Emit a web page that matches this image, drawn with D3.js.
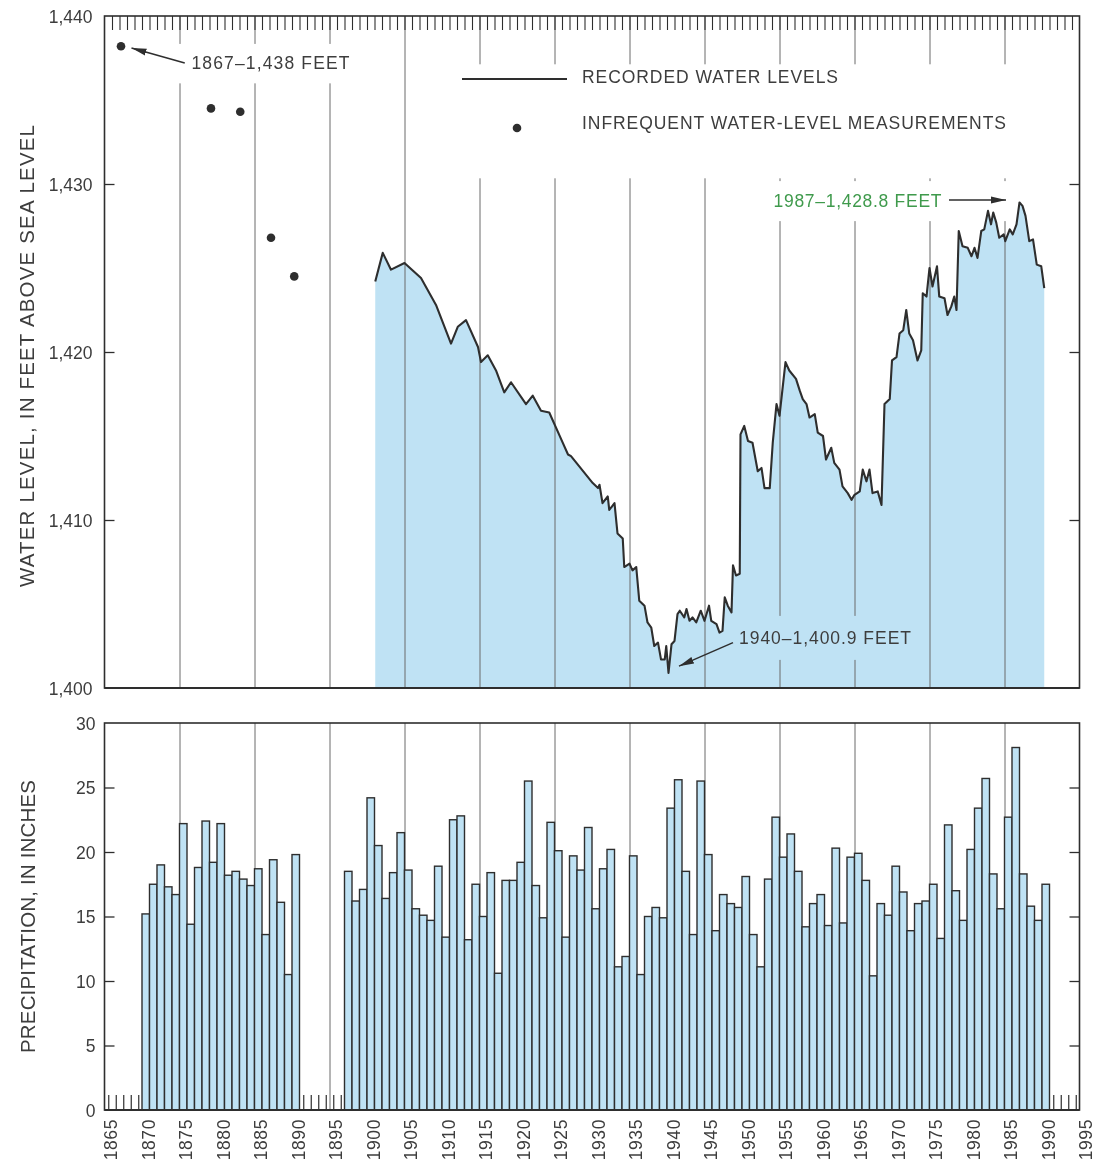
<!DOCTYPE html>
<html>
<head>
<meta charset="utf-8">
<script src="https://cdn.jsdelivr.net/npm/d3@7/dist/d3.min.js"></script>
<style>
html,body{margin:0;padding:0;background:#fff;}
svg{display:block;}
text{font-family:"Liberation Sans",Arial,sans-serif;fill:#3d3d3d;}
</style>
</head>
<body>
<svg id="chart" width="1097" height="1163"></svg>
<script>
// ---------------- DATA ----------------
// Recorded water levels (decimal year, feet above sea level)
const levelYears = [
  1901.1,1902.1,1903.2,1905.0,1907.2,1909.2,1911.2,1912.1,1913.2,1914.8,
  1915.2,1916.1,1917.2,1918.3,1919.2,1921.2,1922.1,1923.2,1924.3,1925.9,
  1926.8,1927.2,1930.1,1930.8,1931.0,1931.4,1932.1,1932.3,1933.0,1933.4,
  1934.1,1934.3,1935.0,1935.4,1935.9,1936.3,1937.0,1937.4,1937.9,1938.3,
  1938.8,1939.2,1939.7,1939.9,1940.2,1940.6,1941.0,1941.4,1941.7,1942.3,
  1942.6,1943.0,1943.4,1943.9,1944.5,1945.0,1945.6,1945.9,1946.6,1947.0,
  1947.4,1947.7,1948.1,1948.6,1948.8,1949.2,1949.7,1949.8,1950.3,1950.8,
  1951.4,1952.1,1952.6,1953.0,1953.7,1954.1,1954.6,1955.0,1955.8,1956.3,
  1957.2,1957.7,1958.1,1958.6,1959.0,1959.7,1960.1,1960.8,1961.2,1961.9,
  1962.3,1963.0,1963.4,1964.1,1964.6,1965.0,1965.7,1966.1,1966.6,1967.0,
  1967.4,1968.1,1968.6,1969.0,1969.7,1970.0,1970.6,1971.0,1971.5,1971.9,
  1972.3,1972.8,1973.4,1973.9,1974.1,1974.6,1975.0,1975.4,1976.0,1976.3,
  1977.0,1977.4,1977.9,1978.3,1978.6,1978.9,1979.4,1980.1,1980.6,1981.0,
  1981.4,1981.9,1982.3,1982.8,1983.2,1983.5,1983.9,1984.3,1984.9,1985.1,
  1985.7,1986.1,1986.6,1987.0,1987.4,1987.8,1988.3,1988.8,1989.3,1989.9,1990.3
];
const levelValues = [
  1424.2,1425.9,1424.9,1425.3,1424.4,1422.8,1420.5,1421.5,1421.9,1420.3,
  1419.4,1419.8,1418.9,1417.6,1418.2,1416.9,1417.4,1416.5,1416.4,1414.8,
  1413.9,1413.8,1412.2,1411.9,1412.1,1411.0,1411.4,1410.6,1411.0,1409.2,
  1408.9,1407.2,1407.4,1407.0,1407.2,1405.2,1404.9,1403.9,1403.6,1402.5,
  1402.7,1401.7,1401.7,1402.5,1400.9,1402.6,1402.8,1404.4,1404.6,1404.2,
  1404.7,1404.0,1404.2,1403.9,1404.6,1404.0,1404.9,1404.0,1403.8,1403.3,
  1403.4,1405.4,1404.9,1404.5,1407.3,1406.7,1406.8,1415.1,1415.6,1414.7,
  1414.6,1412.9,1413.1,1411.9,1411.9,1414.6,1416.9,1416.2,1419.4,1418.9,
  1418.4,1417.7,1417.2,1416.9,1416.1,1416.3,1415.2,1415.0,1413.6,1414.3,
  1413.4,1413.0,1412.0,1411.6,1411.2,1411.5,1411.7,1413.0,1412.3,1413.0,
  1411.6,1411.7,1410.9,1416.9,1417.2,1419.5,1419.7,1421.1,1421.3,1422.5,
  1421.1,1420.7,1419.5,1420.1,1423.5,1423.3,1425.0,1423.9,1425.1,1423.3,
  1423.2,1422.2,1422.7,1423.3,1422.5,1427.2,1426.3,1426.2,1425.7,1426.2,
  1425.6,1427.2,1427.3,1428.4,1427.6,1428.3,1427.7,1426.8,1427.0,1426.6,
  1427.3,1427.0,1427.6,1428.9,1428.7,1428.1,1426.6,1426.7,1425.2,1425.1,1423.8
];
// Infrequent water-level measurements
const spotYears  = [1867.2, 1879.2, 1883.1, 1887.2, 1890.3];
const spotValues = [1438.2, 1434.5, 1434.3, 1426.8, 1424.5];

// Annual precipitation, inches
const precipYears = [
  1870,1871,1872,1873,1874,1875,1876,1877,1878,1879,
  1880,1881,1882,1883,1884,1885,1886,1887,1888,1889,1890,
  1897,1898,1899,
  1900,1901,1902,1903,1904,1905,1906,1907,1908,1909,
  1910,1911,1912,1913,1914,1915,1916,1917,1918,1919,
  1920,1921,1922,1923,1924,1925,1926,1927,1928,1929,
  1930,1931,1932,1933,1934,1935,1936,1937,1938,1939,
  1940,1941,1942,1943,1944,1945,1946,1947,1948,1949,
  1950,1951,1952,1953,1954,1955,1956,1957,1958,1959,
  1960,1961,1962,1963,1964,1965,1966,1967,1968,1969,
  1970,1971,1972,1973,1974,1975,1976,1977,1978,1979,
  1980,1981,1982,1983,1984,1985,1986,1987,1988,1989,1990
];
const precipValues = [
  15.2,17.5,19.0,17.3,16.7,22.2,14.4,18.8,22.4,19.2,
  22.2,18.2,18.5,17.9,17.4,18.7,13.6,19.4,16.1,10.5,19.8,
  18.5,16.2,17.1,
  24.2,20.5,16.4,18.4,21.5,18.6,15.6,15.1,14.7,18.9,
  13.4,22.5,22.8,13.2,17.5,15.0,18.4,10.6,17.8,17.8,
  19.2,25.5,17.4,14.9,22.3,20.1,13.4,19.7,18.6,21.9,
  15.6,18.7,20.2,11.1,11.9,19.7,10.5,15.0,15.7,14.9,
  23.4,25.6,18.5,13.6,25.5,19.8,13.9,16.7,16.0,15.7,
  18.1,13.6,11.1,17.9,22.7,19.6,21.4,18.5,14.2,16.0,
  16.7,14.3,20.3,14.5,19.6,19.9,17.8,10.4,16.0,15.1,
  18.9,16.9,13.9,16.0,16.2,17.5,13.3,22.1,17.0,14.7,
  20.2,23.4,25.7,18.3,15.6,22.7,28.1,18.3,15.8,14.7,17.5
];

// Ticks / labels
const levelTicks  = [1400, 1410, 1420, 1430, 1440];
const precipTicks = [0, 5, 10, 15, 20, 25, 30];
const yearLabels  = [1865,1870,1875,1880,1885,1890,1895,1900,1905,1910,1915,1920,1925,
                     1930,1935,1940,1945,1950,1955,1960,1965,1970,1975,1980,1985,1990,1995];
const gridYears   = [1875,1885,1895,1905,1915,1925,1935,1945,1955,1965,1975,1985];

// ---------------- LAYOUT ----------------
const W = 1097, H = 1163;
const ink = "#2e2e2e", blue = "#bfe2f4", gridC = "#6a6a6a", green = "#3f9a4c";
const svg = d3.select("#chart");

const x  = d3.scaleLinear().domain([1865, 1995]).range([104.5, 1079.5]);
const yT = d3.scaleLinear().domain([1400, 1440]).range([688, 16]);
const yB = d3.scaleLinear().domain([0, 30]).range([1110, 723]);

const defs = svg.append("defs");
defs.append("marker").attr("id", "ah")
  .attr("markerUnits", "userSpaceOnUse")
  .attr("markerWidth", 16).attr("markerHeight", 8)
  .attr("refX", 15).attr("refY", 4).attr("orient", "auto")
  .append("path").attr("d", "M0,0.5L15,4L0,7.5Z").attr("fill", ink);
const mask = defs.append("mask").attr("id", "gm")
  .attr("maskUnits", "userSpaceOnUse").attr("x", 0).attr("y", 0).attr("width", W).attr("height", H);
mask.append("rect").attr("x", 0).attr("y", 0).attr("width", W).attr("height", H).attr("fill", "#fff");

function styleAxis(g) {
  g.attr("font-size", null).attr("font-family", null).attr("color", ink);
  g.select(".domain").remove();
  g.selectAll(".tick line").attr("stroke", ink).attr("stroke-width", 1.3);
}

// ================= UPPER PANEL =================
const levels = levelYears.map((d, i) => [d, levelValues[i]]);

svg.append("path").datum(levels)
  .attr("d", d3.area().x(d => x(d[0])).y0(yT(1400)).y1(d => yT(d[1])))
  .attr("fill", blue);

// vertical grid lines (masked around annotations)
const gridWrap = svg.append("g").attr("mask", "url(#gm)");
const gridTop = gridWrap.append("g")
  .attr("transform", `translate(0,${yT(1400)})`)
  .call(d3.axisBottom(x).tickValues(gridYears).tickSize(-(yT(1400) - yT(1440))).tickFormat(""));
gridTop.select(".domain").remove();
gridTop.selectAll(".tick line").attr("stroke", gridC).attr("stroke-width", 1);

// top minor ticks (every year)
const topTicks = svg.append("g").attr("transform", `translate(0,${yT(1440)})`)
  .call(d3.axisTop(x).tickValues(d3.range(1866, 1995)).tickSize(-14).tickFormat(""));
styleAxis(topTicks);
topTicks.selectAll(".tick line").attr("stroke-width", 1.1);

// left axis
const lAx = svg.append("g").attr("transform", `translate(${x(1865)},0)`)
  .call(d3.axisLeft(yT).tickValues(levelTicks).tickSizeInner(-10).tickSizeOuter(0)
    .tickPadding(12).tickFormat(d3.format(",")));
styleAxis(lAx);
lAx.selectAll("text").attr("font-size", 17.5).attr("dy", "0.36em");
lAx.selectAll(".tick").filter(d => d === 1400 || d === 1440).select("line").remove();

// right axis ticks
const rAx = svg.append("g").attr("transform", `translate(${x(1995)},0)`)
  .call(d3.axisRight(yT).tickValues([1410, 1420, 1430]).tickSizeInner(-10).tickFormat(""));
styleAxis(rAx);

// frame
svg.append("rect").attr("x", x(1865)).attr("y", yT(1440))
  .attr("width", x(1995) - x(1865)).attr("height", yT(1400) - yT(1440))
  .attr("fill", "none").attr("stroke", ink).attr("stroke-width", 1.6);
svg.append("line").attr("x1", x(1865)).attr("x2", x(1995)).attr("y1", yT(1400)).attr("y2", yT(1400))
  .attr("stroke", ink).attr("stroke-width", 2.2);

// water level line
svg.append("path").datum(levels)
  .attr("d", d3.line().x(d => x(d[0])).y(d => yT(d[1])))
  .attr("fill", "none").attr("stroke", ink).attr("stroke-width", 2.1).attr("stroke-linejoin", "round");

// infrequent measurements
svg.append("g").selectAll("circle").data(spotYears).join("circle")
  .attr("cx", d => x(d)).attr("cy", (d, i) => yT(spotValues[i])).attr("r", 4.3).attr("fill", ink);

// y title
svg.append("text")
  .attr("transform", `translate(34,${(125 + 587) / 2}) rotate(-90)`)
  .attr("text-anchor", "middle").attr("font-size", 20.5)
  .attr("textLength", 462).attr("lengthAdjust", "spacing")
  .text("WATER LEVEL, IN FEET ABOVE SEA LEVEL");

// legend
const leg = svg.append("g");
leg.append("line").attr("x1", 462).attr("x2", 567).attr("y1", 79).attr("y2", 79)
  .attr("stroke", ink).attr("stroke-width", 2);
leg.append("text").attr("x", 582).attr("y", 77).attr("dy", "0.36em").attr("font-size", 17.5)
  .attr("textLength", 256).attr("lengthAdjust", "spacing").text("RECORDED WATER LEVELS");
leg.append("circle").attr("cx", 517).attr("cy", 128).attr("r", 4.3).attr("fill", ink);
leg.append("text").attr("x", 582).attr("y", 123).attr("dy", "0.36em").attr("font-size", 17.5)
  .attr("textLength", 424).attr("lengthAdjust", "spacing").text("INFREQUENT WATER-LEVEL MEASUREMENTS");

// annotations
function annotate(cfg) {
  const g = svg.append("g");
  g.append("line")
    .attr("x1", x(cfg.tail[0])).attr("y1", yT(cfg.tail[1]))
    .attr("x2", x(cfg.tip[0])).attr("y2", yT(cfg.tip[1]))
    .attr("stroke", ink).attr("stroke-width", 1.5).attr("marker-end", "url(#ah)");
  const t = g.append("text")
    .attr("x", x(cfg.at[0])).attr("y", yT(cfg.at[1])).attr("dy", "0.36em")
    .attr("text-anchor", cfg.anchor).attr("font-size", 17.5)
    .attr("textLength", cfg.len).attr("lengthAdjust", "spacing")
    .style("fill", cfg.color || null).text(cfg.label);
  return {g, t};
}
const a1 = annotate({label: "1867\u20131,438 FEET", at: [1876.6, 1437.2], anchor: "start", len: 158,
  tail: [1875.7, 1437.2], tip: [1868.6, 1438.1]});
const a2 = annotate({label: "1987\u20131,428.8 FEET", at: [1976.6, 1429.0], anchor: "end", len: 168,
  tail: [1977.6, 1429.05], tip: [1985.2, 1429.05], color: green});
const a3 = annotate({label: "1940\u20131,400.9 FEET", at: [1949.6, 1403.0], anchor: "start", len: 172,
  tail: [1948.8, 1402.7], tip: [1941.6, 1401.3]});

// grid-line gaps around annotations
function gap(bb, pl, pt, pr, pb) {
  mask.append("rect").attr("x", bb.x - pl).attr("y", bb.y - pt)
    .attr("width", bb.width + pl + pr).attr("height", bb.height + pt + pb).attr("fill", "#000");
}
gap(a1.g.node().getBBox(), 6, 4, 6, 10);
gap(leg.node().getBBox(), 4, 3, 4, 45);
gap(a2.g.node().getBBox(), 4, 10, 4, 10);
gap(a3.t.node().getBBox(), 4, 12, 4, 12);

// ================= LOWER PANEL =================
const gridBot = svg.append("g").attr("transform", `translate(0,${yB(0)})`)
  .call(d3.axisBottom(x).tickValues(gridYears).tickSize(-(yB(0) - yB(30))).tickFormat(""));
gridBot.select(".domain").remove();
gridBot.selectAll(".tick line").attr("stroke", gridC).attr("stroke-width", 1);

// minor year ticks along the base
const minor = svg.append("g").attr("transform", `translate(0,${yB(0)})`)
  .call(d3.axisBottom(x).tickValues(d3.range(1865.5, 1995, 1)).tickSize(-15).tickFormat(""));
styleAxis(minor);
minor.selectAll(".tick line").attr("stroke-width", 1.2);

// bars
svg.append("g").selectAll("rect").data(precipYears).join("rect")
  .attr("x", d => x(d)).attr("width", d => x(d + 1) - x(d))
  .attr("y", (d, i) => yB(precipValues[i]))
  .attr("height", (d, i) => yB(0) - yB(precipValues[i]))
  .attr("fill", blue).attr("stroke", ink).attr("stroke-width", 1.4);

// left axis
const lbAx = svg.append("g").attr("transform", `translate(${x(1865)},0)`)
  .call(d3.axisLeft(yB).tickValues(precipTicks).tickSizeInner(-10).tickSizeOuter(0).tickPadding(9));
styleAxis(lbAx);
lbAx.selectAll("text").attr("font-size", 17.5).attr("dy", "0.36em");
lbAx.selectAll(".tick").filter(d => d === 0 || d === 30).select("line").remove();

// right axis ticks
const rbAx = svg.append("g").attr("transform", `translate(${x(1995)},0)`)
  .call(d3.axisRight(yB).tickValues([5, 10, 15, 20, 25]).tickSizeInner(-10).tickFormat(""));
styleAxis(rbAx);

// frame
svg.append("rect").attr("x", x(1865)).attr("y", yB(30))
  .attr("width", x(1995) - x(1865)).attr("height", yB(0) - yB(30))
  .attr("fill", "none").attr("stroke", ink).attr("stroke-width", 1.6);
svg.append("line").attr("x1", x(1865)).attr("x2", x(1995)).attr("y1", yB(0)).attr("y2", yB(0))
  .attr("stroke", ink).attr("stroke-width", 2.2);

// x axis labels
const xAx = svg.append("g").attr("transform", `translate(0,${yB(0)})`)
  .call(d3.axisBottom(x).tickValues(yearLabels).tickSize(0).tickFormat(d3.format("d")));
styleAxis(xAx);
xAx.selectAll("text")
  .attr("transform", "rotate(-90)")
  .attr("text-anchor", "end")
  .attr("x", -9).attr("y", 6).attr("dy", "0.36em")
  .attr("font-size", 17.5).attr("letter-spacing", 0.6);

// y title
svg.append("text")
  .attr("transform", `translate(35,${(780 + 1053) / 2}) rotate(-90)`)
  .attr("text-anchor", "middle").attr("font-size", 20.5)
  .attr("textLength", 273).attr("lengthAdjust", "spacing")
  .text("PRECIPITATION, IN INCHES");
</script>
</body>
</html>
